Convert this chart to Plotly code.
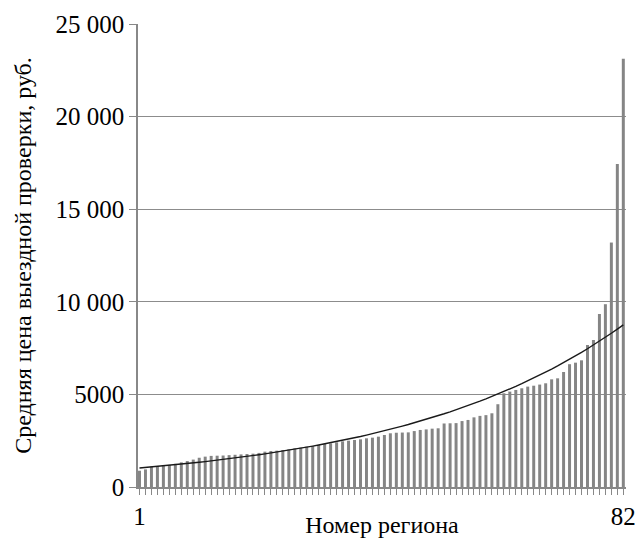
import numpy as np
import plotly.graph_objects as go

regions = list(range(1, 83))
prices = [
    880, 950, 1100, 1130, 1170, 1190, 1250, 1330, 1400, 1480, 1580, 1640, 1680, 1690, 1700, 1720, 1740, 1760, 1780, 1800, 1840,
    1908, 1944, 1962, 1998, 2034, 2088, 2124, 2178, 2214, 2268, 2322, 2358, 2412, 2466, 2502, 2538, 2574, 2628, 2664, 2718, 2808,
    2900, 2930, 2940, 2950, 3020, 3080, 3110, 3150, 3170, 3430, 3440, 3450, 3560, 3620, 3760, 3840, 3880, 3980, 4470, 5060,
    5150, 5240, 5330, 5420, 5470, 5530, 5600, 5814, 5868, 6210, 6630, 6714, 6840, 7668, 7938, 9342, 9870, 13200, 17440, 23130,
]
y_tickvals = [0, 5000, 10000, 15000, 20000, 25000]
y_ticktext = ["0", "5000", "10 000", "15 000", "20 000", "25 000"]
x_tickvals = [1, 82]
x_ticktext = ["1", "82"]

# exponential trend line (least squares fit on log values)
xr = np.array(regions, dtype=float)
b, lna = np.polyfit(xr, np.log(np.array(prices, dtype=float)), 1)
trend = np.exp(lna + b * xr)

font_family = "Liberation Serif"

fig = go.Figure()
fig.add_trace(go.Bar(x=regions, y=prices, marker=dict(color="#858585", line=dict(width=0)),
                     showlegend=False))
fig.add_trace(go.Scatter(x=regions, y=trend, mode="lines",
                         line=dict(color="#1a1a1a", width=1.4), showlegend=False))

fig.update_layout(
    width=635, height=538,
    margin=dict(l=138, r=9, t=24, b=51),
    paper_bgcolor="white", plot_bgcolor="white",
    bargap=0.5,
    font=dict(family=font_family, size=24, color="black"),
)
fig.update_xaxes(
    range=[0.75, 82.45], automargin=False,
    tickmode="array", tickvals=x_tickvals, ticktext=x_ticktext,
    ticklabeloverflow="allow",
    ticks="outside", ticklen=6, tickcolor="#888888", tickwidth=1,
    minor=dict(ticks="outside", tickmode="linear", tick0=1, dtick=1, ticklen=6,
               tickcolor="#888888", tickwidth=1, showgrid=False),
    showline=True, linecolor="#888888", linewidth=1.5,
    showgrid=False, zeroline=False,
    tickfont=dict(size=25, family=font_family),
    title=dict(text="Номер региона", standoff=4, font=dict(size=24, family=font_family)),
)
fig.update_yaxes(
    range=[0, 25000], automargin=False,
    tickmode="array", tickvals=y_tickvals, ticktext=y_ticktext,
    ticks="outside", ticklen=7, tickcolor="#888888", tickwidth=1,
    showline=True, linecolor="#888888", linewidth=1.5,
    showgrid=True, gridcolor="#8c8c8c", gridwidth=1.2,
    zeroline=False,
    tickfont=dict(size=25, family=font_family),
    title=dict(text="Средняя цена выездной проверки, руб.", standoff=17,
               font=dict(size=24, family=font_family)),
)

fig.write_html("out.html")
